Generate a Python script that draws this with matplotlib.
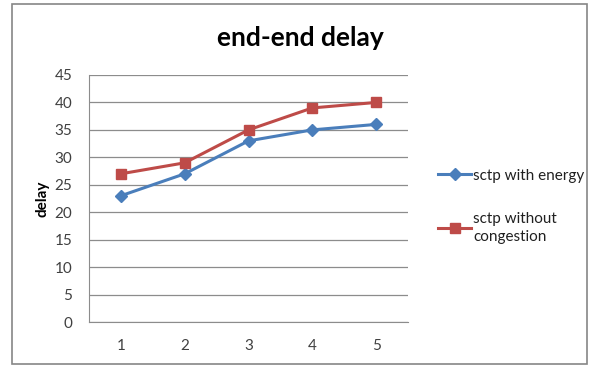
import matplotlib.pyplot as plt
from matplotlib.patches import Rectangle

# Messwerte
runs = [1, 2, 3, 4, 5]
with_energy = [23, 27, 33, 35, 36]
without_congestion = [27, 29, 35, 39, 40]
y_ticks = [0, 5, 10, 15, 20, 25, 30, 35, 40, 45]

plt.rcParams['font.family'] = ['Lato', 'DejaVu Sans']

fig = plt.figure(figsize=(5.9, 3.65), dpi=100)
W, H = 590, 365

# Rahmen um das ganze Diagramm
fig.patches.append(Rectangle((12 / W, 1 - 364 / H), 575 / W, 360 / H,
                             transform=fig.transFigure, fill=False,
                             edgecolor='#868686', linewidth=1.2))

ax = fig.add_axes([89 / W, 1 - 322 / H, (408 - 89) / W, (322 - 75) / H])

ax.plot(runs, with_energy, color='#4A7EBB', linewidth=2.2, marker='D',
        markersize=6, label='sctp with energy')
ax.plot(runs, without_congestion, color='#BE4B48', linewidth=2.2, marker='s',
        markersize=7, label='sctp without\ncongestion')

ax.set_xlim(0.5, 5.5)
ax.set_ylim(0, 45)
ax.set_xticks(runs)
ax.set_yticks(y_ticks)
ax.grid(axis='y', color='#8c8c8c', linewidth=0.9)
ax.set_axisbelow(True)
for side in ['top', 'right']:
    ax.spines[side].set_visible(False)
ax.spines['left'].set_color('#8c8c8c')
ax.spines['bottom'].set_color('#8c8c8c')
ax.tick_params(axis='both', length=0, labelsize=11, colors='#404040', pad=12)
ax.tick_params(axis='y', pad=12)
ax.set_ylabel('delay', fontsize=11, fontweight='bold', labelpad=4)

fig.text(300 / W, 1 - 38 / H, 'end-end delay', fontsize=19, fontweight='bold',
         ha='center', va='center')

leg = fig.legend(loc='upper left', bbox_to_anchor=(424 / W, 1 - 155 / H),
                 frameon=False, fontsize=11, handlelength=2.2,
                 handletextpad=0.1, labelspacing=1.9, labelcolor='#202020')
for t in leg.get_texts():
    t.set_linespacing(1.35)

fig.savefig('out.png', dpi=100)
